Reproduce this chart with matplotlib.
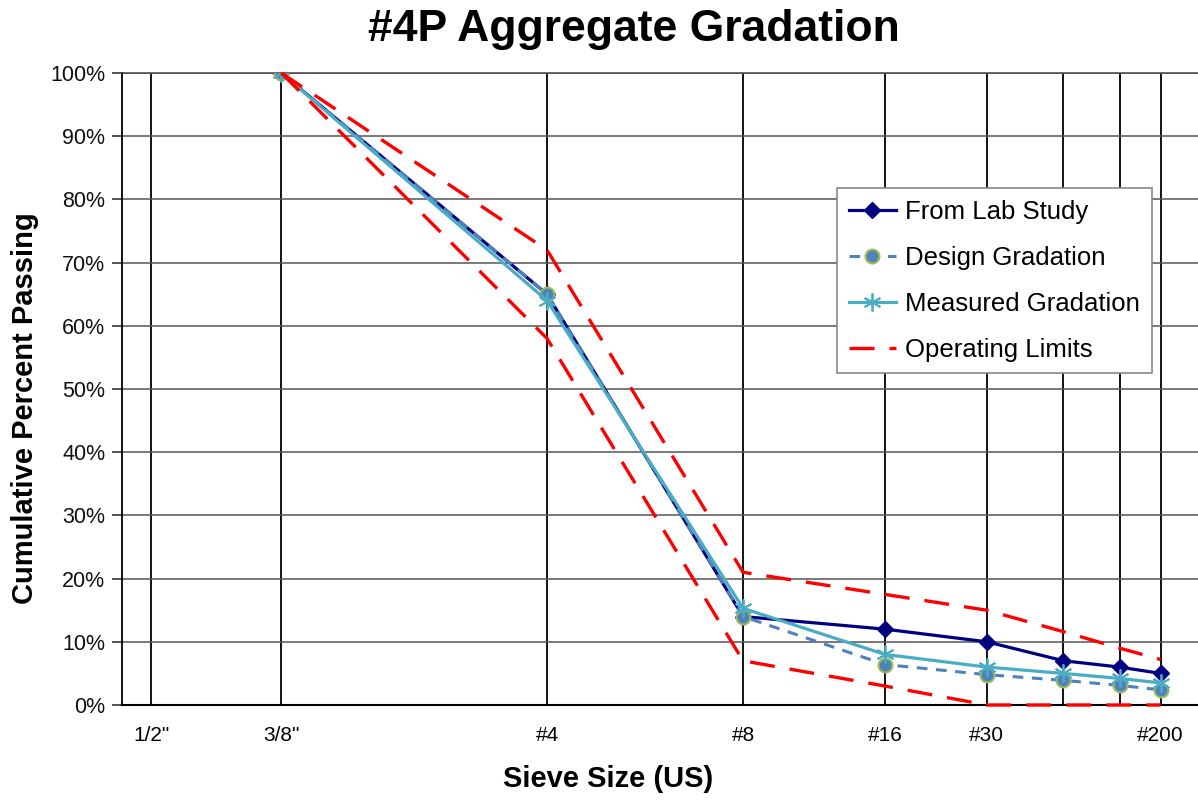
import numpy as np
import matplotlib
matplotlib.use("Agg")
import matplotlib.pyplot as plt

# ---- data ----
sieve_labels = ['1/2"', '3/8"', '#4', '#8', '#16', '#30', '#50', '#100', '#200']
sieve_mm = [12.5, 9.5, 4.75, 2.36, 1.18, 0.6, 0.3, 0.15, 0.075]
shown_labels = ['1/2"', '3/8"', '#4', '#8', '#16', '#30', '', '', '#200']

data_mm = [9.5, 4.75, 2.36, 1.18, 0.6, 0.3, 0.15, 0.075]
lab_study = [100, 65, 14, 12, 10, 7, 6, 5]
design = [100, 65, 14, 6.4, 4.8, 3.9, 3.1, 2.4]
measured = [100, 64, 15.3, 8.0, 6.0, 5.0, 4.2, 3.5]
upper_limit = [100, 72, 21, 17.5, 15, 11.6, 9.0, 7.2]
lower_limit = [100, 58, 7, 3, 0, 0, 0, 0]

yticks = [0, 10, 20, 30, 40, 50, 60, 70, 80, 90, 100]

ARIAL = ['Liberation Sans', 'DejaVu Sans']
plt.rcParams['font.family'] = ARIAL

fig = plt.figure(figsize=(11.98, 8.0), dpi=100)
ax = fig.add_axes([122/1198, 1-705/800, 1-122/1198, (705-73)/800])

p = 0.45
ax.set_xscale('function', functions=(lambda x: np.power(np.clip(x, 1e-9, None), p),
                                     lambda x: np.power(np.clip(x, 1e-9, None), 1/p)))
ax.set_xlim(13.23, 0.0305)
ax.set_ylim(0, 100)

lw = 2.3
ax.plot(data_mm, lab_study, color='#000080', lw=lw, marker='D', ms=8,
        mfc='#000080', mec='#000080', zorder=4, label='From Lab Study')
ax.plot(data_mm, design, color='#4F81BD', lw=2.2, ls=(0, (3.5, 2.8)), marker='o', ms=10,
        mfc='#4F81BD', mec='#9BBB59', mew=1.5, zorder=5, label='Design Gradation')
ax.plot(data_mm, measured, color='#4BACC6', lw=lw, marker=(6, 2, 0), ms=13,
        mec='#4BACC6', mew=1.3, zorder=6, label='Measured Gradation')
ax.plot(data_mm, upper_limit, color='#FF0000', lw=2.4, ls=(0, (7.5, 4.5)), zorder=7,
        clip_on=False, label='Operating Limits')
ax.plot(data_mm, lower_limit, color='#FF0000', lw=2.4, ls=(0, (7.5, 4.5)), zorder=7,
        clip_on=False)

ax.set_xticks(sieve_mm)
ax.set_xticklabels(shown_labels, fontsize=15)
ax.tick_params(axis='x', length=0, pad=15)
ax.set_yticks(yticks)
ax.set_yticklabels([f'{v}%' for v in yticks], fontsize=15.5, color='#111111')
ax.tick_params(axis='y', direction='out', length=7, width=1.2, color='#333333', pad=5)

ax.xaxis.grid(True, color='black', lw=1.3, zorder=1)
ax.yaxis.grid(True, color='#555555', lw=1.1, zorder=1)
ax.set_axisbelow(True)
ax.spines['right'].set_visible(False)
ax.spines['top'].set_color('#444444')
ax.spines['top'].set_linewidth(1.1)
ax.spines['left'].set_linewidth(1.3)
ax.spines['bottom'].set_linewidth(1.5)

fig.text(634/1198, 1-29/800, '#4P Aggregate Gradation', ha='center', va='center',
         fontweight='bold', fontsize=32)
fig.text(608/1198, 1-779/800, 'Sieve Size (US)', ha='center', va='center',
         fontweight='bold', fontsize=21)
fig.text(25/1198, 1-408/800, 'Cumulative Percent Passing', ha='center', va='center',
         rotation=90, fontweight='bold', fontsize=21)

leg = ax.legend(loc='upper left', bbox_to_anchor=(837/1198, 1-188/800),
                bbox_transform=fig.transFigure, prop={'size': 18.5},
                frameon=True, fancybox=False, edgecolor='#888888', framealpha=1,
                handlelength=1.85, handletextpad=0.35, labelspacing=0.86,
                borderpad=0.45, borderaxespad=0)
leg.get_frame().set_linewidth(1.2)

fig.savefig('out.png', dpi=100, facecolor='white')
